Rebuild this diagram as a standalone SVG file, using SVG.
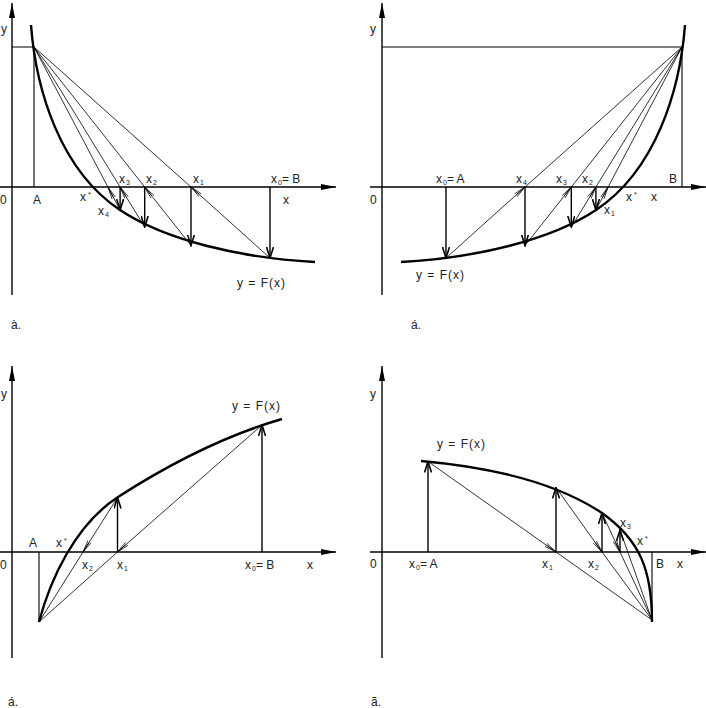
<svg xmlns="http://www.w3.org/2000/svg" width="706" height="708" viewBox="0 0 706 708">
<style>
text{font-family:"Liberation Sans","DejaVu Sans",sans-serif;font-size:12px;fill:#222}
.s{font-size:7px}
.ax{stroke:#000;stroke-width:1.4;fill:none}
.cv{stroke:#000;stroke-width:2.4;fill:none}
.vt{stroke:#000;stroke-width:1.4;fill:none}
.ch{stroke:#000;stroke-width:0.8;fill:none}
.ln{stroke:#000;stroke-width:1.1;fill:none}
.fx{letter-spacing:1px}
</style>
<defs>
<marker id="axa" markerWidth="15" markerHeight="8" refX="15" refY="4" orient="auto" markerUnits="userSpaceOnUse"><path d="M0,1 L15,4 L0,7 Z" fill="#000"/></marker>
<marker id="va" markerWidth="12" markerHeight="8" refX="11" refY="4" orient="auto" markerUnits="userSpaceOnUse"><path d="M0,0.5 L11,4 L0,7.5" fill="none" stroke="#000" stroke-width="1.6"/></marker>
<marker id="ca" markerWidth="13" markerHeight="7" refX="12.5" refY="3.5" orient="auto" markerUnits="userSpaceOnUse"><path d="M0,1.6 L12.5,3.5 L0,5.4 M1,3.5 L12.5,3.5" fill="none" stroke="#000" stroke-width="0.7"/></marker>
</defs>

<!-- Panel a (top-left) -->
<g id="panel-a">
<g id="a-axes">
<line class="ax" x1="0" y1="187" x2="336" y2="187" marker-end="url(#axa)"/>
<line class="ax" x1="12" y1="295" x2="12" y2="3" marker-end="url(#axa)"/>
<polyline class="ln" points="12,47 34,47 34,187"/>
</g>
<path id="a-curve" class="cv" d="M31,25 C36,90 60,170 120,210 C165,240 240,258 315,262"/>
<g id="a-connectors">
<line class="vt" x1="270" y1="187" x2="270" y2="258" marker-end="url(#va)"/>
<line class="ch" x1="270" y1="258" x2="191" y2="187" marker-end="url(#ca)"/>
<line class="ch" x1="191" y1="187" x2="34" y2="47"/>
<line class="vt" x1="191" y1="187" x2="191" y2="245.5" marker-end="url(#va)"/>
<line class="ch" x1="191" y1="245.5" x2="144.7" y2="187" marker-end="url(#ca)"/>
<line class="ch" x1="144.7" y1="187" x2="34" y2="47"/>
<line class="vt" x1="144.7" y1="187" x2="144.7" y2="227" marker-end="url(#va)"/>
<line class="ch" x1="144.7" y1="227" x2="120.1" y2="187" marker-end="url(#ca)"/>
<line class="ch" x1="120.1" y1="187" x2="34" y2="47"/>
<line class="vt" x1="120.1" y1="187" x2="120.1" y2="210" marker-end="url(#va)"/>
<line class="ch" x1="120.1" y1="210" x2="107.9" y2="187" marker-end="url(#ca)"/>
<line class="ch" x1="107.9" y1="187" x2="34" y2="47"/>
</g>
<g id="a-labels">
<text x="1" y="33">y</text>
<text x="0" y="204">0</text>
<text x="33" y="204">A</text>
<text x="80" y="201">x<tspan class="s" dx="2" dy="-4">*</tspan></text>
<text x="98" y="215">x<tspan class="s" dx="1" dy="2">4</tspan></text>
<text x="119" y="183">x<tspan class="s" dx="1" dy="2">3</tspan></text>
<text x="146" y="183">x<tspan class="s" dx="1" dy="2">2</tspan></text>
<text x="193" y="183">x<tspan class="s" dx="1" dy="2">1</tspan></text>
<text x="271" y="183">x<tspan class="s" dx="1" dy="2">0</tspan><tspan dy="-2">= B</tspan></text>
<text x="283" y="204">x</text>
<text class="fx" x="237" y="287">y = F(x)</text>
<text x="11" y="329">à.</text>
</g>
</g>

<!-- Panel b (top-right) -->
<g id="panel-b">
<g id="b-axes">
<line class="ax" x1="370" y1="187" x2="706" y2="187" marker-end="url(#axa)"/>
<line class="ax" x1="382" y1="295" x2="382" y2="3" marker-end="url(#axa)"/>
<polyline class="ln" points="382,47 682,47 682,187"/>
</g>
<path id="b-curve" class="cv" d="M685,25 C680,90 656,170 596,210 C551,240 476,258 401,262"/>
<g id="b-connectors">
<line class="vt" x1="446" y1="187" x2="446" y2="258" marker-end="url(#va)"/>
<line class="ch" x1="446" y1="258" x2="525" y2="187" marker-end="url(#ca)"/>
<line class="ch" x1="525" y1="187" x2="682" y2="47"/>
<line class="vt" x1="525" y1="187" x2="525" y2="245.5" marker-end="url(#va)"/>
<line class="ch" x1="525" y1="245.5" x2="571.3" y2="187" marker-end="url(#ca)"/>
<line class="ch" x1="571.3" y1="187" x2="682" y2="47"/>
<line class="vt" x1="571.3" y1="187" x2="571.3" y2="227" marker-end="url(#va)"/>
<line class="ch" x1="571.3" y1="227" x2="595.9" y2="187" marker-end="url(#ca)"/>
<line class="ch" x1="595.9" y1="187" x2="682" y2="47"/>
<line class="vt" x1="595.9" y1="187" x2="595.9" y2="210" marker-end="url(#va)"/>
<line class="ch" x1="595.9" y1="210" x2="608.1" y2="187" marker-end="url(#ca)"/>
<line class="ch" x1="608.1" y1="187" x2="682" y2="47"/>
</g>
<g id="b-labels">
<text x="370" y="33">y</text>
<text x="370" y="204">0</text>
<text x="436" y="183">x<tspan class="s" dx="1" dy="2">0</tspan><tspan dy="-2">= A</tspan></text>
<text x="516" y="183">x<tspan class="s" dx="1" dy="2">4</tspan></text>
<text x="556" y="183">x<tspan class="s" dx="1" dy="2">3</tspan></text>
<text x="582" y="183">x<tspan class="s" dx="1" dy="2">2</tspan></text>
<text x="604" y="214">x<tspan class="s" dx="1" dy="2">1</tspan></text>
<text x="626" y="201">x<tspan class="s" dx="2" dy="-4">*</tspan></text>
<text x="651" y="201">x</text>
<text x="669" y="183">B</text>
<text class="fx" x="416" y="279">y = F(x)</text>
<text x="411" y="329">á.</text>
</g>
</g>

<!-- Panel c (bottom-left) -->
<g id="panel-c">
<g id="c-axes">
<line class="ax" x1="0" y1="552" x2="336" y2="552" marker-end="url(#axa)"/>
<line class="ax" x1="12" y1="658" x2="12" y2="366" marker-end="url(#axa)"/>
<line class="ln" x1="39" y1="552" x2="39" y2="622"/>
</g>
<path id="c-curve" class="cv" d="M39,622 C50,580 75,525 118,497 C160,470 220,437 282,419"/>
<g id="c-connectors">
<line class="vt" x1="262" y1="552" x2="262" y2="425" marker-end="url(#va)"/>
<line class="ch" x1="262" y1="425" x2="117.5" y2="552" marker-end="url(#ca)"/>
<line class="ch" x1="117.5" y1="552" x2="39" y2="622"/>
<line class="vt" x1="117.5" y1="552" x2="117.5" y2="497.5" marker-end="url(#va)"/>
<line class="ch" x1="117.5" y1="497.5" x2="83" y2="552" marker-end="url(#ca)"/>
<line class="ch" x1="83" y1="552" x2="39" y2="622"/>
</g>
<g id="c-labels">
<text x="1" y="398">y</text>
<text x="0" y="569">0</text>
<text x="29" y="547">A</text>
<text x="56" y="547">x<tspan class="s" dx="2" dy="-4">*</tspan></text>
<text x="82" y="569">x<tspan class="s" dx="1" dy="2">2</tspan></text>
<text x="117" y="569">x<tspan class="s" dx="1" dy="2">1</tspan></text>
<text x="245" y="569">x<tspan class="s" dx="1" dy="2">0</tspan><tspan dy="-2">= B</tspan></text>
<text x="307" y="569">x</text>
<text class="fx" x="232" y="410">y = F(x)</text>
<text x="8" y="706">á.</text>
</g>
</g>

<!-- Panel d (bottom-right) -->
<g id="panel-d">
<g id="d-axes">
<line class="ax" x1="370" y1="552" x2="706" y2="552" marker-end="url(#axa)"/>
<line class="ax" x1="382" y1="658" x2="382" y2="366" marker-end="url(#axa)"/>
<line class="ln" x1="652" y1="552" x2="652" y2="622"/>
</g>
<path id="d-curve" class="cv" d="M421,461 C500,468 560,485 602,513 C640,540 652,570 652,622"/>
<g id="d-connectors">
<line class="vt" x1="428" y1="552" x2="428" y2="461.5" marker-end="url(#va)"/>
<line class="ch" x1="428" y1="461.5" x2="556" y2="552" marker-end="url(#ca)"/>
<line class="ch" x1="556" y1="552" x2="652" y2="620"/>
<line class="vt" x1="556" y1="552" x2="556" y2="487.5" marker-end="url(#va)"/>
<line class="ch" x1="556" y1="487.5" x2="602" y2="552" marker-end="url(#ca)"/>
<line class="ch" x1="602" y1="552" x2="652" y2="620"/>
<line class="vt" x1="602" y1="552" x2="602" y2="513" marker-end="url(#va)"/>
<line class="ch" x1="602" y1="513" x2="620" y2="552" marker-end="url(#ca)"/>
<line class="ch" x1="620" y1="552" x2="652" y2="620"/>
<line class="vt" x1="620" y1="552" x2="620" y2="530" marker-end="url(#va)"/>
<line class="ch" x1="620" y1="530" x2="652" y2="620"/>
</g>
<g id="d-labels">
<text x="370" y="398">y</text>
<text x="370" y="568">0</text>
<text x="409" y="568">x<tspan class="s" dx="1" dy="2">0</tspan><tspan dy="-2">= A</tspan></text>
<text x="542" y="568">x<tspan class="s" dx="1" dy="2">1</tspan></text>
<text x="588" y="568">x<tspan class="s" dx="1" dy="2">2</tspan></text>
<text x="620" y="527">x<tspan class="s" dx="1" dy="2">3</tspan></text>
<text x="637" y="545">x<tspan class="s" dx="2" dy="-4">*</tspan></text>
<text x="656" y="568">B</text>
<text x="677" y="568">x</text>
<text class="fx" x="437" y="448">y = F(x)</text>
<text x="371" y="706">ã.</text>
</g>
</g>
</svg>
